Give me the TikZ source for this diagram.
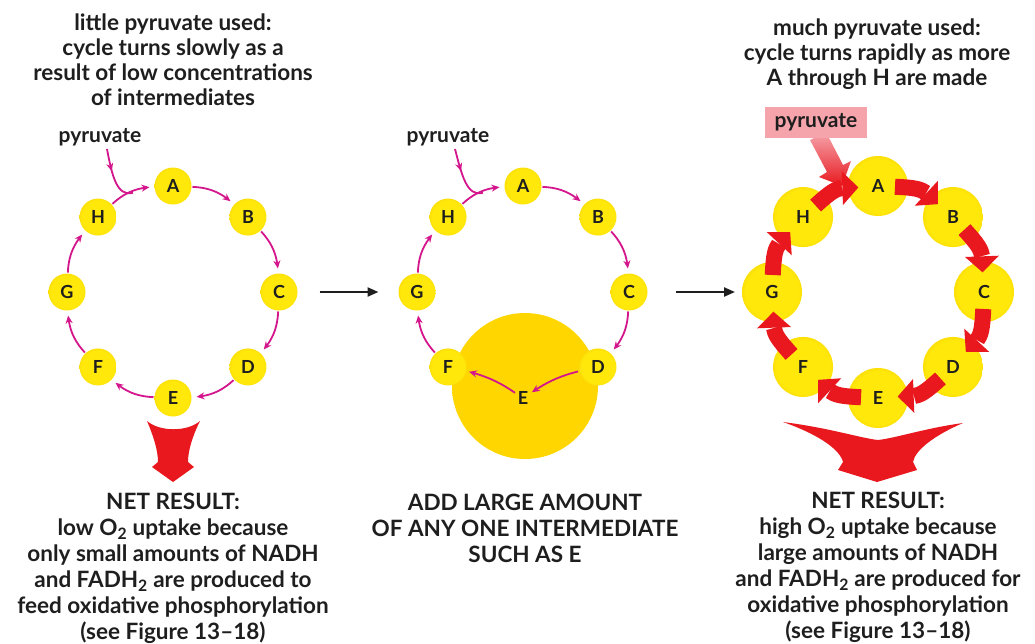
\documentclass[tikz,border=0pt]{standalone}
\usepackage{fontspec}
\setmainfont{Lato}
\usetikzlibrary{arrows.meta,decorations.markings,calc,bending}
\definecolor{mag}{RGB}{212,22,140}
\definecolor{redA}{RGB}{232,24,30}
\definecolor{yc}{RGB}{255,232,10}
\definecolor{yr}{RGB}{228,156,0}
\definecolor{gc}{RGB}{255,214,0}
\definecolor{gr}{RGB}{248,196,0}
\definecolor{pinkbox}{RGB}{246,164,172}
\definecolor{txt}{RGB}{30,30,30}
\pgfdeclareradialshading{ballY}{\pgfpoint{0bp}{0bp}}{color(0bp)=(yc); color(22bp)=(yc); color(50bp)=(yr)}
\pgfdeclareradialshading{bigY}{\pgfpoint{0bp}{0bp}}{color(0bp)=(gc); color(40bp)=(gc); color(50bp)=(gr)}
\tikzset{
  sm/.style={circle, minimum size=37pt, inner sep=0pt, outer sep=0pt, shade, shading=ballY,
    font=\bfseries\fontsize{18}{18}\selectfont, text=txt},
  bg/.style={sm, minimum size=60pt},
  letter/.style={font=\bfseries\fontsize{18}{18}\selectfont, text=txt, inner sep=1pt},
  magarr/.style={draw=mag, line width=1.8pt, -{Stealth[length=8pt,width=7pt]}, shorten <=1pt, shorten >=5pt},
  redarr/.style={draw=redA, line width=16pt, -{Triangle[length=16pt,width=33pt,flex]}, shorten <=-13pt, shorten >=-9pt},
  blkarr/.style={draw=txt, line width=2.2pt, -{Triangle[length=11pt,width=9pt]}},
  lbl/.style={font=\bfseries\fontsize{22.5}{25}\selectfont, align=center, text=txt, inner sep=0pt},
  lblb/.style={font=\bfseries\fontsize{22.5}{26}\selectfont, align=center, text=txt, inner sep=0pt},
  pyr/.style={font=\bfseries\fontsize{21}{22}\selectfont, text=txt, inner sep=0pt},
  pyrline/.style={draw=mag, line width=1.8pt,
    postaction={decorate, decoration={markings, mark=at position 0.4 with {\arrow{Stealth[length=8pt,width=7pt]}}}}},
}
\begin{document}
\begin{tikzpicture}[x=1pt,y=-1pt]
\useasboundingbox (0,0) rectangle (1035,643);

% ---------- texts ----------
\node[lbl] (t1) at (173,60) {little pyruvate used:\\cycle turns slowly as a\\result of low concentrations\\of intermediates};
\node[lbl] (t3) at (877,54) {much pyruvate used:\\cycle turns rapidly as more\\A through H are made};
\node[lblb] (b1) at (173,568) {NET RESULT:\\low O\textsubscript{2} uptake because\\only small amounts of NADH\\and FADH\textsubscript{2} are produced to\\feed oxidative phosphorylation\\(see Figure 13–18)};
\node[lblb] (b2) at (525,528) {ADD LARGE AMOUNT\\OF ANY ONE INTERMEDIATE\\SUCH AS E};
\node[lblb] (b3) at (878,567) {NET RESULT:\\high O\textsubscript{2} uptake because\\large amounts of NADH\\and FADH\textsubscript{2} are produced for\\oxidative phosphorylation\\(see Figure 13–18)};

% ---------- panel 1 ----------
\foreach \L/\a in {A/270,B/315,C/0,D/45,E/90,F/135,G/180,H/225}
  \node[sm] (\L1) at ($(173,292)+(\a:106)$) {\L};
\foreach \s/\t in {A/B,B/C,C/D,D/E,E/F,F/G,G/H,H/A}
  \draw[magarr] (\s1) to[bend left=20] (\t1);
\node[pyr] (p1) at (100,137) {pyruvate};
\coordinate (m1) at ($(173,292)+(248:107)$);
\draw[pyrline] ($(p1.south)+(7,3)$) .. controls (112,176) and (117,197) .. (m1);
\fill[redA] (147,421) .. controls (160,432) and (187,432) .. (200,421)
  .. controls (193,435) and (188,450) .. (188,462) -- (194,467) -- (173,482) -- (152,467) -- (158,462)
  .. controls (158,450) and (153,435) .. (147,421) -- cycle;

% ---------- panel 2 ----------
\node[circle, minimum size=146pt, inner sep=0pt, shade, shading=bigY] (big) at (525,386) {};
\foreach \L/\a in {A/270,B/315,C/0,D/45,F/135,G/180,H/225}
  \node[sm] (\L2) at ($(523,292)+(\a:106)$) {\L};
\node[letter] (E2) at (523,398) {E};
\foreach \s/\t in {A/B,B/C,C/D,F/G,G/H,H/A}
  \draw[magarr] (\s2) to[bend left=20] (\t2);
\draw[magarr, shorten <=2pt, shorten >=3pt] (D2) to[bend right=10] (E2);
\draw[magarr, shorten <=2pt, shorten >=3pt] (E2) to[bend right=10] (F2);
\node[pyr] (p2) at (448,137) {pyruvate};
\coordinate (m2) at ($(523,292)+(248:107)$);
\draw[pyrline] ($(p2.south)+(7,3)$) .. controls (462,176) and (467,197) .. (m2);

% ---------- panel 3 ----------
\foreach \L/\a in {A/270,B/315,C/0,D/45,E/90,F/135,G/180,H/225}
  \node[bg] (\L3) at ($(878,292)+(\a:106)$) {};
\shade[top color=pinkbox, middle color=redA, bottom color=redA]
  (810,140) -- (827,172) -- (819,177) -- (842,186) -- (851,161) -- (843,165) -- (826,132) -- cycle;
\foreach \s/\t in {A/B,B/C,C/D,D/E,E/F,F/G,G/H,H/A}
  \draw[redarr] (\s3) to[bend left=20] (\t3);
\foreach \L in {A,B,C,D,E,F,G,H}
  \node[letter] at (\L3) {\L};
\node[pyr, fill=pinkbox, minimum width=102pt, minimum height=31pt] (pbox) at (816,122) {pyruvate};
\fill[redA] (783,422) .. controls (830,428) and (860,438) .. (878,440)
  .. controls (896,438) and (926,428) .. (963,423)
  .. controls (935,435) and (915,450) .. (913,462) -- (917,470) -- (877,482) -- (838,470) -- (843,462)
  .. controls (840,450) and (820,435) .. (783,422) -- cycle;

% ---------- between panels ----------
\draw[blkarr, shorten <=22pt, shorten >=20pt] (C1) -- (G2);
\draw[blkarr, shorten <=28pt, shorten >=7pt] (C2) -- (G3);
\end{tikzpicture}
\end{document}
